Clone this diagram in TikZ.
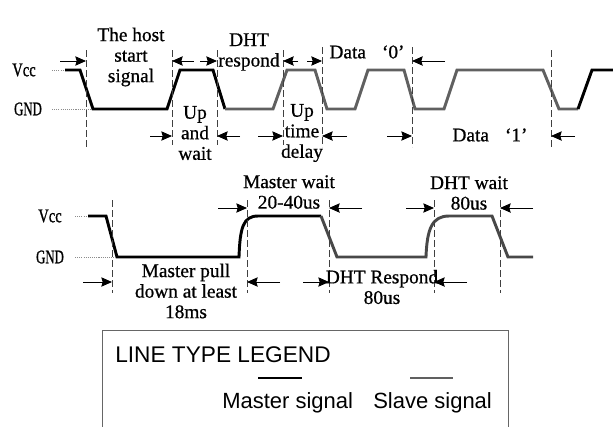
\documentclass[tikz,border=0pt]{standalone}
\usepackage{fontspec}
\usepackage{graphicx}
\usetikzlibrary{arrows.meta}
\newfontfamily\lblfont[FakeBold=0.7]{Liberation Serif}
\newfontfamily\lvlfont[FakeBold=1.2]{Liberation Serif}
\newfontfamily\legfont{Liberation Sans}
\definecolor{slaveA}{HTML}{606060}
\definecolor{slaveB}{HTML}{484848}
\begin{document}
\begin{tikzpicture}[x=0.75pt,y=-0.75pt,
 lbl/.style={font=\lblfont\fontsize{14.5}{15.4}\selectfont, inner sep=0pt, align=center},
 lvl/.style={font=\lvlfont\fontsize{14.5}{15}\selectfont, inner sep=0pt},
 master/.style={line width=2.2pt, draw=black},
 slave/.style={line width=2.2pt, draw=slaveA},
 slaveb/.style={line width=2.2pt, draw=slaveB},
 guide/.style={draw=black!75, line width=0.6pt, dash pattern=on 5pt off 2.5pt},
 dotl/.style={draw=black!45, line width=0.5pt, dash pattern=on 0.8pt off 0.8pt},
 arr/.style={-{Stealth[length=8pt,width=7pt,inset=1pt]}, line width=0.7pt},
 legline/.style={line width=2.2pt},
 legtxt/.style={font=\legfont\fontsize{16.5}{18}\selectfont, inner sep=0pt, anchor=base west}]
\useasboundingbox (0,0) rectangle (613,426);

% ================= TOP DIAGRAM =================
\node[lvl] (vcc1) at (24,70) {\scalebox{0.75}[1]{Vcc}};
\node[lvl] (gnd1) at (28,109) {\scalebox{0.66}[1]{GND}};
\coordinate (vcc1e) at (65,70);
\coordinate (gnd1e) at (93,109);
\draw[dotl] (52,70) -- (vcc1e);
\draw[dotl] (52,109) -- (gnd1e);

% waveform
\draw[master, line join=miter] (vcc1e) -- (80,70) -- (gnd1e) -- (167,109) -- (180,70) -- (213,70) -- (225,109);
\draw[slave] (225,109) -- (273,109) -- (287,70) -- (315,70) -- (327,109) -- (355,109) -- (368,70) -- (404,70) -- (415,109) -- (444,109) -- (457,70) -- (543,70) -- (559,109) -- (578,109);
\draw[master] (578,109) -- (592,70) -- (613,70);

% guides
\coordinate (tA) at (86,50);  \coordinate (tAb) at (86,147);
\coordinate (tB) at (172,50); \coordinate (tBb) at (172,145);
\coordinate (tC) at (217,50); \coordinate (tCb) at (217,145);
\coordinate (tD) at (283,50); \coordinate (tDb) at (283,145);
\coordinate (tE) at (322,47); \coordinate (tEb) at (322,147);
\coordinate (tF) at (412,47); \coordinate (tFb) at (412,147);
\coordinate (tG) at (551,50); \coordinate (tGb) at (551,147);
\foreach \p in {A,B,C,D,E,F,G} \draw[guide] (t\p) -- (t\p b);

% upper arrow row
\coordinate (u1s) at (60,61);  \coordinate (u1e) at (86,61);
\coordinate (u2s) at (194,61); \coordinate (u2e) at (172,61);
\coordinate (u3s) at (200,61); \coordinate (u3e) at (217,61);
\coordinate (u4s) at (298,61); \coordinate (u4e) at (283,61);
\coordinate (u5s) at (307,61); \coordinate (u5e) at (322,61);
\coordinate (u6s) at (445,61); \coordinate (u6e) at (412,61);
\foreach \i in {1,...,6} \draw[arr] (u\i s) -- (u\i e);

% lower arrow row
\coordinate (l1s) at (150,136); \coordinate (l1e) at (172,136);
\coordinate (l2s) at (240,136); \coordinate (l2e) at (217,136);
\coordinate (l3s) at (258,136); \coordinate (l3e) at (283,136);
\coordinate (l4s) at (347,136); \coordinate (l4e) at (322,136);
\coordinate (l5s) at (387,136); \coordinate (l5e) at (412,136);
\coordinate (l6s) at (575,136); \coordinate (l6e) at (551,136);
\foreach \i in {1,...,6} \draw[arr] (l\i s) -- (l\i e);

% labels
\node[lbl] (host) at (131,57) {The host\\start\\signal};
\node[lbl] (resp) at (249,52) {DHT\\respond};
\node[lbl] (upw) at (195,133) {Up\\and\\wait};
\node[lbl] (upt) at (302,133) {Up\\time\\delay};
\node[lbl] (d0) at (367,52) {Data\hspace{12pt}‘0’};
\node[lbl] (d1) at (490,135) {Data\hspace{12pt}‘1’};

% ================= BOTTOM DIAGRAM =================
\node[lvl] (vcc2) at (50,216) {\scalebox{0.75}[1]{Vcc}};
\node[lvl] (gnd2) at (50,257) {\scalebox{0.66}[1]{GND}};
\coordinate (vcc2e) at (88,216);
\coordinate (gnd2e) at (117,257);
\draw[dotl] (75,216) -- (vcc2e);
\draw[dotl] (75,257) -- (gnd2e);

\draw[master] (vcc2e) -- (106,216) -- (gnd2e) -- (239,257) .. controls (240,228) and (243,216) .. (258,216) -- (321,216);
\draw[slaveb] (321,216) -- (337,257) -- (426,257) .. controls (427,229) and (432,216) .. (449,216) -- (492,216) -- (508,257) -- (533,257);

\coordinate (ba) at (112,200); \coordinate (bab) at (112,293);
\coordinate (bb) at (247,200); \coordinate (bbb) at (247,293);
\coordinate (bc) at (329,200); \coordinate (bcb) at (329,293);
\coordinate (bd) at (434,200); \coordinate (bdb) at (434,293);
\coordinate (be) at (500,200); \coordinate (beb) at (500,293);
\foreach \p in {a,b,c,d,e} \draw[guide] (b\p) -- (b\p b);

\coordinate (m1s) at (218,208); \coordinate (m1e) at (247,208);
\coordinate (m2s) at (362,208); \coordinate (m2e) at (329,208);
\coordinate (m3s) at (406,208); \coordinate (m3e) at (434,208);
\coordinate (m4s) at (533,208); \coordinate (m4e) at (500,208);
\foreach \i in {1,...,4} \draw[arr] (m\i s) -- (m\i e);

\coordinate (n1s) at (83,282);  \coordinate (n1e) at (112,282);
\coordinate (n2s) at (280,282); \coordinate (n2e) at (247,282);
\coordinate (n3s) at (303,282); \coordinate (n3e) at (329,282);
\coordinate (n4s) at (467,282); \coordinate (n4e) at (434,282);
\foreach \i in {1,...,4} \draw[arr] (n\i s) -- (n\i e);

\node[lbl] (mw) at (289,192) {Master wait\\20-40us};
\node[lbl] (dw) at (469,193) {DHT wait\\80us};
\node[lbl] (mp) at (186,291) {Master pull\\down at least\\18ms};
\node[lbl] (dr) at (382,287) {DHT Respond\\80us};

% ================= LEGEND =================
\draw[draw=black!60, line width=0.75pt] (102,430) -- (102,330) -- (508,330) -- (508,430);
\node[legtxt, font=\legfont\fontsize{17}{18}\selectfont] (legt) at (115,362) {LINE TYPE LEGEND};
\coordinate (lm1) at (258,378); \coordinate (lm2) at (302,378);
\coordinate (ls1) at (410,378); \coordinate (ls2) at (453,378);
\draw[legline, black] (lm1) -- (lm2);
\draw[legline, slaveA] (ls1) -- (ls2);
\node[legtxt] (legm) at (222,408) {Master signal};
\node[legtxt] (legs) at (373,408) {Slave signal};
\end{tikzpicture}
\end{document}
